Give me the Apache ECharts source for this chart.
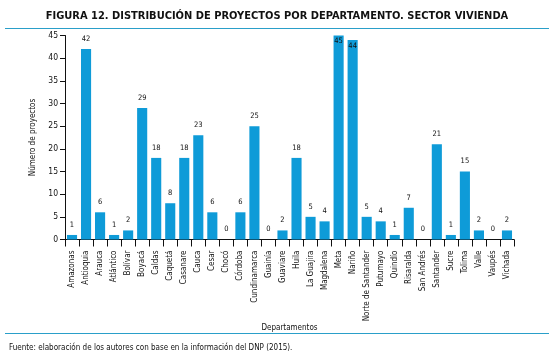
<!DOCTYPE html>
<html><head><meta charset="utf-8">
<script src="https://cdn.jsdelivr.net/npm/echarts@6/dist/echarts.min.js"></script>
<style>html,body{margin:0;padding:0;background:#fff}#c{width:554px;height:355px}</style>
</head><body><div id="c"></div>
<script>
var categories = ["Amazonas","Antioquia","Arauca","Atlántico","Bolívar","Boyacá","Caldas","Caquetá","Casanare","Cauca","Cesar","Chocó","Córdoba","Cundinamarca","Guainía","Guaviare","Huila","La Guajira","Magdalena","Meta","Nariño","Norte de Santander","Putumayo","Quindío","Risaralda","San Andrés","Santander","Sucre","Tolima","Valle","Vaupés","Vichada"];
var proyectos = [1,42,6,1,2,29,18,8,18,23,6,0,6,25,0,2,18,5,4,45,44,5,4,1,7,0,21,1,15,2,0,2];
var yTicks = {min:0, max:45, interval:5};
var titleText = "FIGURA 12. DISTRIBUCIÓN DE PROYECTOS POR DEPARTAMENTO. SECTOR VIVIENDA";
var sourceText = "Fuente: elaboración de los autores con base en la información del DNP (2015).";
var blue = "#0e9bd8";
var lineBlue = "#2a9fc9";
var font = "'Liberation Sans Narrow','DejaVu Sans Condensed',sans-serif";

var barData = proyectos.map(function(v){
  return v >= 44 ? {value:v, label:{position:'insideTop', distance:2}} : v;
});

var chart = echarts.init(document.getElementById('c'), null, {renderer:'canvas'});
chart.setOption({
  animation:false,
  textStyle:{fontFamily:font},
  title:[
    {text:titleText, left:'center', top:6, textStyle:{fontSize:11, fontWeight:'bold', color:'#111', fontFamily:font}},
    {text:sourceText, left:4, top:339, textStyle:{fontSize:8, fontWeight:'normal', color:'#111', fontFamily:font}}
  ],
  graphic:[
    {type:'line', shape:{x1:5,y1:28.5,x2:549,y2:28.5}, style:{stroke:lineBlue, lineWidth:1}},
    {type:'line', shape:{x1:5,y1:333.5,x2:549,y2:333.5}, style:{stroke:lineBlue, lineWidth:1}}
  ],
  grid:{left:65, right:40, top:35.5, bottom:115.5, containLabel:false},
  xAxis:{
    type:'category', data:categories,
    name:'Departamentos', nameLocation:'middle', nameGap:84, nameMoveOverlap:false,
    nameTextStyle:{fontSize:8, color:'#111', fontFamily:font},
    axisLine:{lineStyle:{color:'#111', width:1}},
    axisTick:{show:true, length:7, alignWithLabel:false, lineStyle:{color:'#111'}},
    axisLabel:{rotate:90, interval:0, fontSize:8, color:'#111', margin:11, fontFamily:font}
  },
  yAxis:{
    type:'value', min:yTicks.min, max:yTicks.max, interval:yTicks.interval,
    name:'Número de proyectos', nameLocation:'middle', nameGap:18, nameRotate:90,
    nameTextStyle:{fontSize:8, color:'#111', fontFamily:font},
    axisLine:{show:true, lineStyle:{color:'#111', width:1}},
    axisTick:{show:true, length:5, lineStyle:{color:'#111'}},
    axisLabel:{fontSize:8.5, color:'#111', margin:7, fontFamily:font},
    splitLine:{show:false}
  },
  series:[{
    type:'bar', data:barData, barCategoryGap:'28%',
    itemStyle:{color:blue},
    label:{show:true, position:'top', fontSize:7.5, color:'#111', distance:6, fontFamily:font}
  }]
});
</script></body></html>
